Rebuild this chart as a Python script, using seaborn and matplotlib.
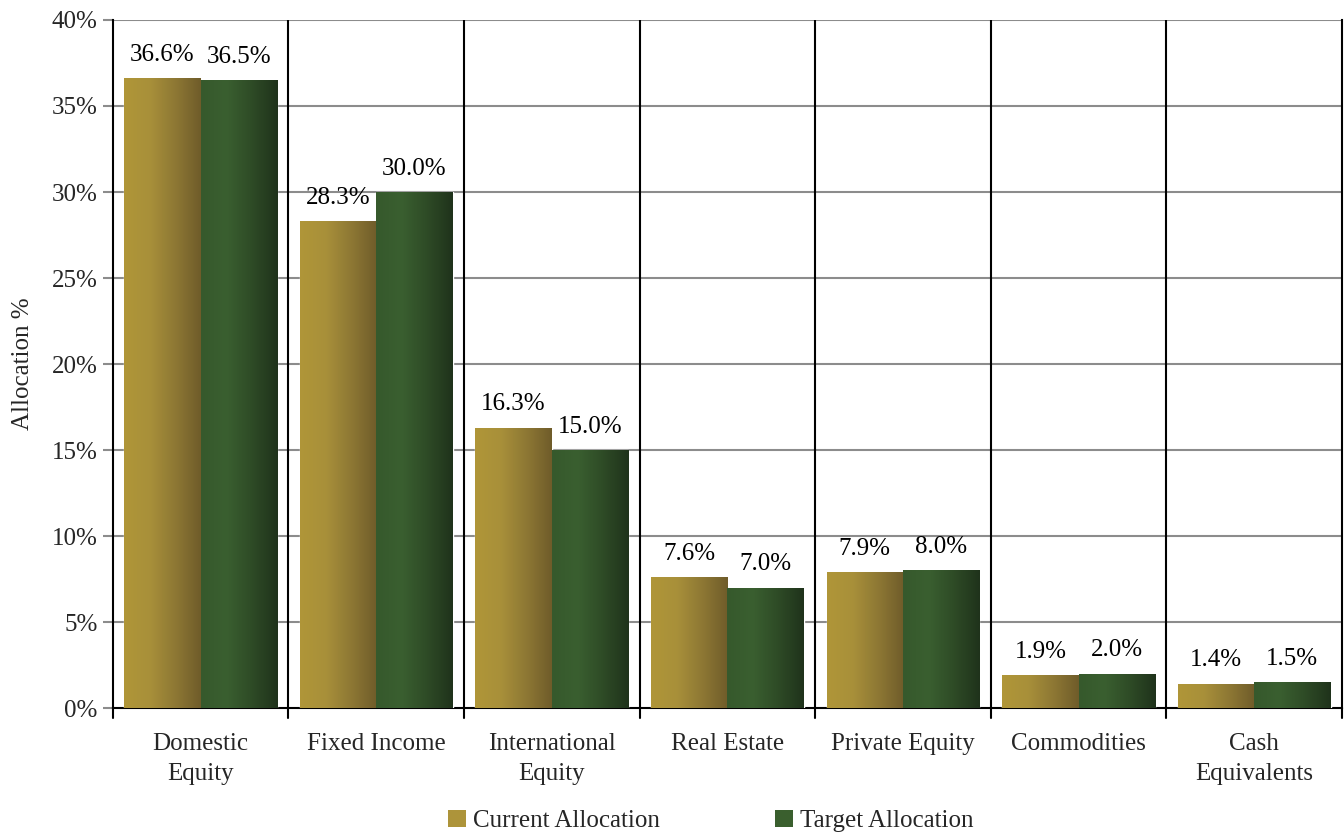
import numpy as np
import pandas as pd
import matplotlib
matplotlib.use("Agg")
import matplotlib.pyplot as plt
import seaborn as sns
from matplotlib.colors import LinearSegmentedColormap
from matplotlib.patches import Patch

categories = ["Domestic\nEquity", "Fixed Income", "International\nEquity", "Real Estate",
              "Private Equity", "Commodities", "Cash\nEquivalents"]
current_alloc = [36.6, 28.3, 16.3, 7.6, 7.9, 1.9, 1.4]
target_alloc = [36.5, 30.0, 15.0, 7.0, 8.0, 2.0, 1.5]
series_names = ["Current Allocation", "Target Allocation"]
y_ticks = [0, 5, 10, 15, 20, 25, 30, 35, 40]

df = pd.DataFrame({
    "category": categories * 2,
    "value": current_alloc + target_alloc,
    "series": [series_names[0]] * len(categories) + [series_names[1]] * len(categories),
})

sns.set_style("white")
plt.rcParams["font.family"] = ["Liberation Serif", "DejaVu Serif"]
FS = 18

fig = plt.figure(figsize=(13.44, 8.33), dpi=100)
ax = fig.add_axes([0.084, 0.150, 0.9145, 0.826])

flat = {series_names[0]: "#ad943a", series_names[1]: "#3a5f2e"}
grad = {
    series_names[0]: ["#b09638", "#a8903a", "#8e7834", "#6f5c2a"],
    series_names[1]: ["#36592c", "#3a5f30", "#2e4b26", "#1f321b"],
}

sns.barplot(data=df, x="category", y="value", hue="series", order=categories,
            hue_order=series_names, palette=flat, width=0.87, gap=0,
            saturation=1, ax=ax, legend=False, zorder=3)

ax.set_xlim(-0.5, len(categories) - 0.5)
ax.set_ylim(0, 40)

# horizontal gradient fill on each bar
for container, name in zip(ax.containers, series_names):
    cmap = LinearSegmentedColormap.from_list(name, grad[name])
    for bar in container:
        x0, y0 = bar.get_x(), bar.get_y()
        w, h = bar.get_width(), bar.get_height()
        img = ax.imshow(np.linspace(0, 1, 256).reshape(1, -1), cmap=cmap, aspect="auto",
                        extent=(x0, x0 + w, y0, y0 + h), zorder=3.5, interpolation="bilinear")
        img.set_clip_path(bar)
    ax.bar_label(container, labels=[f"{v:.1f}%" for v in container.datavalues],
                 padding=9, fontsize=FS, color="black", zorder=5)

ax.set_xlim(-0.5, len(categories) - 0.5)
ax.set_ylim(0, 40)

# gridlines and category separators
for y in y_ticks[1:]:
    ax.axhline(y, color="#8c8c8c", lw=1.5, zorder=1)
for i in range(len(categories) - 1):
    ax.axvline(i + 0.5, color="black", lw=1.5, zorder=2)

ax.set_yticks(y_ticks)
ax.set_yticklabels([f"{v}%" for v in y_ticks], fontsize=FS)
ax.set_xticks(np.arange(len(categories)))
ax.set_xticklabels(categories, fontsize=FS, linespacing=1.45)
ax.tick_params(axis="x", length=0, pad=18)
ax.tick_params(axis="y", length=7, width=1.5, color="#8c8c8c", left=True, pad=4)

# boundary tick marks below the x axis
for xb in np.arange(-0.5, len(categories), 1.0):
    ax.plot([xb, xb], [0, -0.6], color="black", lw=1.5, clip_on=False, zorder=2)

for side in ["left", "bottom", "right"]:
    ax.spines[side].set_color("black")
    ax.spines[side].set_linewidth(1.5)
ax.spines["top"].set_visible(False)

ax.set_xlabel("")
ax.set_ylabel("Allocation %", fontsize=FS, labelpad=13)

handles = [Patch(facecolor=flat[n], edgecolor="none", label=n) for n in series_names]
fig.legend(handles=handles, loc="lower center", bbox_to_anchor=(0.529, -0.026), ncol=2,
           frameon=False, fontsize=FS, handlelength=0.7, handleheight=0.7,
           handletextpad=0.3, columnspacing=4.6)

fig.savefig("out.png", dpi=100)
